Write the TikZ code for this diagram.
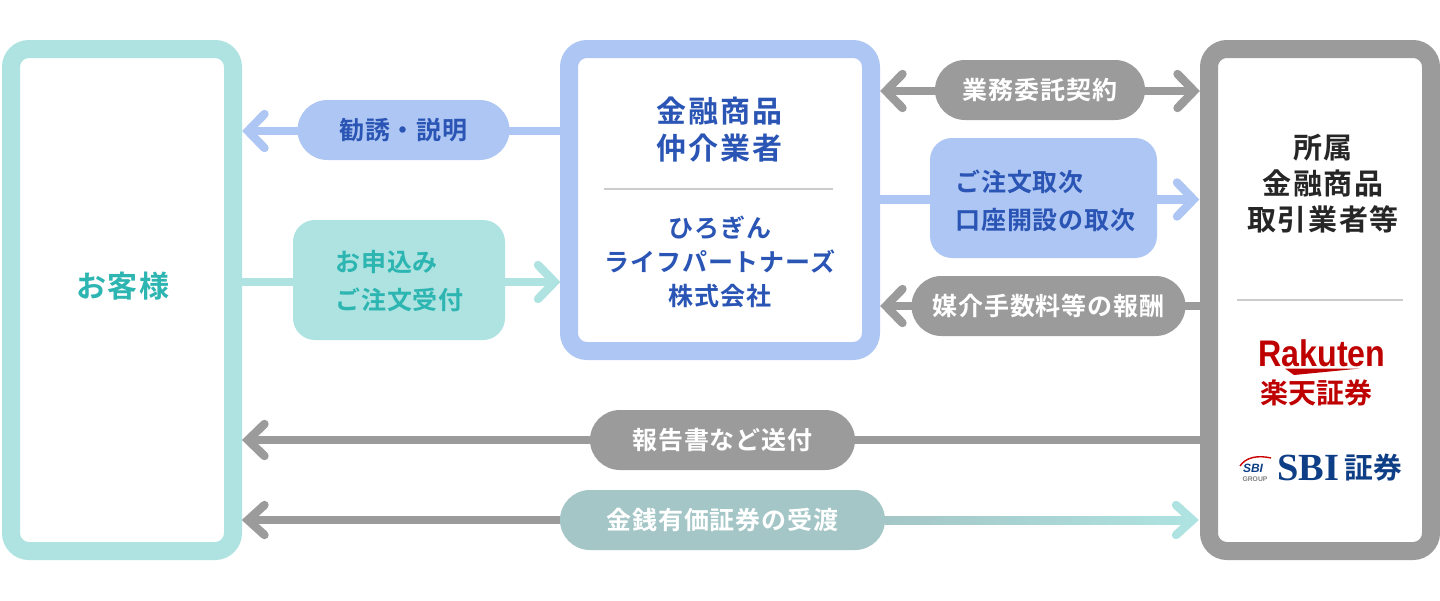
\documentclass[tikz,border=0pt]{standalone}
\usepackage{fontspec}
\usetikzlibrary{calc,fadings}
\setmainfont{Noto Sans CJK JP}
\newfontfamily\jpb[LetterSpace=3.4]{Noto Sans CJK JP Bold}
\newfontfamily\jpc[LetterSpace=6]{Noto Sans CJK JP Bold}
\newfontfamily\jpz{Noto Sans CJK JP Bold}
\newfontfamily\logolat{Liberation Sans Bold}
\newfontfamily\logoser{Liberation Serif Bold}
\definecolor{tealB}{HTML}{AEE3E1}
\definecolor{blueB}{HTML}{AEC6F3}
\definecolor{grayB}{HTML}{9B9B9B}
\definecolor{mixB}{HTML}{A4C6C6}
\definecolor{tealT}{HTML}{2CB5B1}
\definecolor{blueT}{HTML}{2A55B5}
\definecolor{rakuten}{HTML}{BF0000}
\definecolor{sbiblue}{HTML}{0E3E85}
\tikzset{
  x=0.5pt,y=-0.5pt,
  frame/.style={draw=#1,line width=9pt,fill=white,rounded corners=9pt,inner sep=0pt},
  conn/.style={draw=#1,line width=4.2pt},
  pill/.style={fill=#1,text=white,rounded corners=15pt,inner sep=0pt,font=\jpb\fontsize{12.5}{17}\selectfont},
  tag/.style={fill=#1,rounded corners=11pt,inner sep=0pt},
  chev/.style={draw=#1,line width=4.2pt,line cap=round,line join=miter,fill=none},
  big/.style={font=\jpc\fontsize{15}{18.5}\selectfont,align=center,inner sep=0pt},
  sub/.style={font=\jpb\fontsize{12.5}{17}\selectfont,align=center,inner sep=0pt},
  tagtext/.style={font=\jpb\fontsize{12.5}{19.3}\selectfont,align=left,inner sep=0pt},
}
\newcommand{\chevL}[3]{\draw[chev=#1] ($(#2)+(16.5,-#3)$) -- (#2) -- ($(#2)+(16.5,#3)$);}
\newcommand{\chevR}[3]{\draw[chev=#1] ($(#2)+(-16.5,-#3)$) -- (#2) -- ($(#2)+(-16.5,#3)$);}
\begin{document}
\begin{tikzpicture}
\useasboundingbox (0,0) rectangle (1440,600);
\fill[white] (0,0) rectangle (1440,600);
% tips
\coordinate (t1) at (248,131);
\coordinate (t2) at (554.5,282);
\coordinate (t3) at (886,91);
\coordinate (t4) at (1194,91);
\coordinate (t5) at (1193.5,199.5);
\coordinate (t6) at (886,306);
\coordinate (t7) at (248,440);
\coordinate (t8) at (248,520);
\coordinate (t9) at (1192.5,520);
% connector lines
\coordinate (s1) at (560,131);
\coordinate (s2) at (242,282);
\coordinate (s5) at (880,199.5);
\coordinate (s6) at (1200,306);
\coordinate (s7) at (1200,440);
\draw[conn=blueB] (s1) -- (t1); \chevL{blueB}{t1}{17}
\draw[conn=tealB] (s2) -- (t2); \chevR{tealB}{t2}{17}
\draw[conn=grayB] (t3) -- (t4); \chevL{grayB}{t3}{17} \chevR{grayB}{t4}{17}
\draw[conn=blueB] (s5) -- (t5); \chevR{blueB}{t5}{17}
\draw[conn=grayB] (s6) -- (t6); \chevL{grayB}{t6}{17}
\draw[conn=grayB] (s7) -- (t7); \chevL{grayB}{t7}{16}
\draw[conn=grayB] (t8) -- (720,520);
\fill[left color=mixB,right color=tealB] (885,516) rectangle (1191,524);
\chevL{grayB}{t8}{15} \chevR{tealB}{t9}{15}
% boxes
\draw[frame=tealB] (11,49) rectangle (233,551);
\draw[frame=blueB] (569,49) rectangle (871,351);
\draw[frame=grayB] (1209,49) rectangle (1431,551);
\node[anchor=center,font=\jpc\fontsize{15}{18}\selectfont,text=tealT,inner sep=0pt] (okyaku) at (123,286) {お客様};
% middle
\node[big,text=blueT] (title) at (719.5,130) {金融商品\\仲介業者};
\draw[draw=black!20,line width=0.9pt] (604,189) -- (833,189);
\node[sub,text=blueT] (hiro) at (720,262) {ひろぎん\\ライフパートナーズ\\株式会社};
% right
\node[big,text=black!85,font=\jpc\fontsize{14.5}{18}\selectfont] (shozoku) at (1323,184) {所属\\金融商品\\取引業者等};
\draw[draw=black!20,line width=0.9pt] (1237,300) -- (1403,300);
% logos
\node[inner sep=0pt,anchor=base,font=\logolat\fontsize{18.5}{20}\selectfont,text=rakuten] (rak) at (1322,366.5) {\scalebox{0.87}[1]{Rakuten}};
\fill[rakuten] (1285,368.5) -- (1360,368.5) -- (1294,375) -- cycle;
\node[inner sep=0pt,font=\jpz\fontsize{14}{14}\selectfont,text=rakuten] (rak2) at (1316,392.5) {楽天証券};
\node[inner sep=0pt,font=\logoser\fontsize{19.2}{20}\selectfont,text=sbiblue] (sbi) at (1308,468) {SBI};
\node[inner sep=0pt,font=\jpz\fontsize{14.4}{14}\selectfont,text=sbiblue] (sbi2) at (1373.5,468) {証券};
\node[inner sep=0pt,font=\logolat\itshape\fontsize{6}{6}\selectfont,text=sbiblue] (sbi3) at (1253,468) {SBI};
\node[inner sep=0pt,font=\logolat\fontsize{3.4}{4}\selectfont,text=black!50] (sbi4) at (1255,479) {GROUP};
\draw[red!80!black,line width=0.7pt] (1240,466) .. controls (1246,457) and (1258,455) .. (1271,458);
% pills
\node[pill=blueB,text=blueT,minimum width=106pt,minimum height=30pt] (p1) at (403.5,130) {勧誘・説明};
\node[pill=grayB,minimum width=105pt,minimum height=30pt] (p3) at (1040,90) {業務委託契約};
\node[pill=grayB,minimum width=137pt,minimum height=30pt] (p6) at (1048.5,306) {媒介手数料等の報酬};
\node[pill=grayB,minimum width=132.5pt,minimum height=30pt] (p7) at (722.5,440) {報告書など送付};
\node[pill=mixB,minimum width=162.5pt,minimum height=30pt] (p8) at (722.5,520) {金銭有価証券の受渡};
% tags
\node[tag=tealB,minimum width=106pt,minimum height=60pt] (t2box) at (399,280) {};
\node[tagtext,text=tealT,anchor=west] (t2txt) at (335,281) {お申込み\\ご注文受付};
\node[tag=blueB,minimum width=113.5pt,minimum height=60pt] (t5box) at (1043.5,198) {};
\node[tagtext,text=blueT,anchor=west] (t5txt) at (955,201) {ご注文取次\\口座開設の取次};
\end{tikzpicture}
\end{document}
